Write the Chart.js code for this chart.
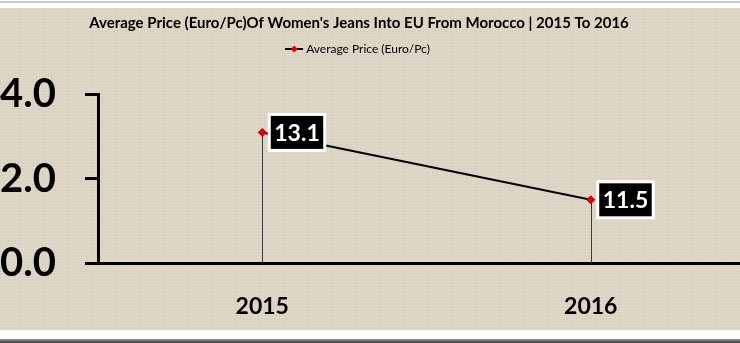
<!DOCTYPE html>
<html>
<head>
<meta charset="utf-8">
<script src="https://cdn.jsdelivr.net/npm/chart.js@4"></script>
<style>
  html, body { margin: 0; padding: 0; background: #fff; }
  #page { position: relative; width: 740px; height: 343px; overflow: hidden; background: #fff; }
  #topline { position: absolute; left: 0; top: 1px; width: 740px; height: 2px; background: #c8c8c8; }
  #botline { position: absolute; left: 0; top: 339px; width: 740px; height: 4px; background: linear-gradient(#9a9a9a, #3a3a3a); }
  #panel {
    position: absolute; left: 0; top: 8px; width: 740px; height: 322px; overflow: hidden;
    background-color: #ddd5c4;
    background-image:
      repeating-linear-gradient(0deg, rgba(255,255,255,0.12) 0 1px, transparent 1px 3px),
      repeating-linear-gradient(90deg, rgba(120,105,80,0.05) 0 1px, transparent 1px 3px);
  }
  #chart { position: absolute; left: -40px; top: 0; }
</style>
</head>
<body>
<div id="page">
  <div id="topline"></div>
  <div id="panel"><canvas id="chart" width="800" height="322"></canvas></div>
  <div id="botline"></div>
</div>
<script>
  // ── Chart data ─────────────────────────────────────────────
  const YEARS = ['2015', '2016'];
  const AVG_PRICE = [13.1, 11.5];
  const Y_TICKS = [10, 12, 14];

  const FONT = "Lato, 'Open Sans', sans-serif";

  // legend icon: short black line with a red diamond
  function legendIcon() {
    const c = document.createElement('canvas');
    c.width = 18; c.height = 8;
    const g = c.getContext('2d');
    g.strokeStyle = '#000'; g.lineWidth = 2;
    g.beginPath(); g.moveTo(0, 4); g.lineTo(18, 4); g.stroke();
    g.fillStyle = '#e00000';
    g.beginPath(); g.moveTo(9, 0.5); g.lineTo(12.5, 4); g.lineTo(9, 7.5); g.lineTo(5.5, 4); g.closePath(); g.fill();
    return c;
  }

  // vertical drop lines from each point to the x axis
  const dropLines = {
    id: 'dropLines',
    beforeDatasetsDraw(chart) {
      const ctx = chart.ctx;
      const bottom = chart.chartArea.bottom;
      ctx.save();
      ctx.strokeStyle = '#3a3a3a';
      ctx.lineWidth = 1;
      chart.getDatasetMeta(0).data.forEach((pt) => {
        const x = Math.round(pt.x) + 0.5;
        ctx.beginPath(); ctx.moveTo(x, pt.y); ctx.lineTo(x, bottom); ctx.stroke();
      });
      ctx.restore();
    }
  };

  // black boxes with white text next to each point
  const valueBoxes = {
    id: 'valueBoxes',
    afterDatasetsDraw(chart) {
      const ctx = chart.ctx;
      const ds = chart.data.datasets[0];
      ctx.save();
      ctx.font = 'bold 23px ' + FONT;
      ctx.textBaseline = 'middle';
      ctx.textAlign = 'center';
      chart.getDatasetMeta(0).data.forEach((pt, i) => {
        const txt = ds.data[i].toFixed(1);
        const w = ctx.measureText(txt).width + 10;
        const h = 36;
        const x = pt.x + 7, y = pt.y - h / 2;
        ctx.fillStyle = '#000';
        ctx.fillRect(x, y, w, h);
        ctx.strokeStyle = '#fff';
        ctx.lineWidth = 3;
        ctx.strokeRect(x, y, w, h);
        ctx.fillStyle = '#fff';
        ctx.fillText(txt, x + w / 2, pt.y + 1);
      });
      ctx.restore();
    }
  };

  // extra space under the legend
  const legendGap = {
    id: 'legendGap',
    beforeInit(chart) {
      const fit = chart.legend.fit;
      chart.legend.fit = function () {
        fit.call(this);
        this.height += 29.5;
      };
    }
  };

  new Chart(document.getElementById('chart'), {
    type: 'line',
    data: {
      labels: YEARS,
      datasets: [{
        label: 'Average Price (Euro/Pc)',
        data: AVG_PRICE,
        borderColor: '#000',
        borderWidth: 2,
        pointStyle: 'rectRot',
        pointRadius: 4,
        pointBackgroundColor: '#e00000',
        pointBorderColor: '#b00000',
        pointBorderWidth: 1,
        tension: 0,
      }]
    },
    options: {
      responsive: false,
      animation: false,
      layout: { padding: { top: 0, left: 0, right: 2, bottom: 0 } },
      plugins: {
        title: {
          display: true,
          text: "Average Price (Euro/Pc)Of Women's Jeans Into EU From Morocco | 2015 To 2016",
          color: '#000',
          font: { family: FONT, size: 15, weight: 'bold' },
          padding: { top: 6, bottom: 5 },
        },
        legend: {
          display: true,
          labels: {
            usePointStyle: true,
            pointStyle: legendIcon(),
            color: '#000',
            padding: 6,
            font: { family: FONT, size: 12 },
          }
        },
        tooltip: { enabled: false },
      },
      scales: {
        x: {
          offset: true,
          grid: { display: true, drawOnChartArea: false, drawTicks: false },
          border: { display: true, color: '#000', width: 3 },
          ticks: { color: '#000', padding: 30, font: { family: FONT, size: 23, weight: 'bold' } },
          afterFit(scale) { scale.height = 67; },
        },
        y: {
          min: 10,
          max: 14,
          afterBuildTicks(scale) { scale.ticks = Y_TICKS.map((v) => ({ value: v })); },
          grid: { drawOnChartArea: false, drawTicks: true, tickLength: 13, color: '#000', lineWidth: 3 },
          border: { display: true, color: '#000', width: 3 },
          ticks: {
            color: '#000',
            padding: 29,
            font: { family: FONT, size: 40, weight: 'bold' },
            callback: (v) => Number(v).toFixed(1),
          },
          afterFit(scale) { scale.width = 138; },
        }
      }
    },
    plugins: [dropLines, valueBoxes, legendGap]
  });
</script>
</body>
</html>
